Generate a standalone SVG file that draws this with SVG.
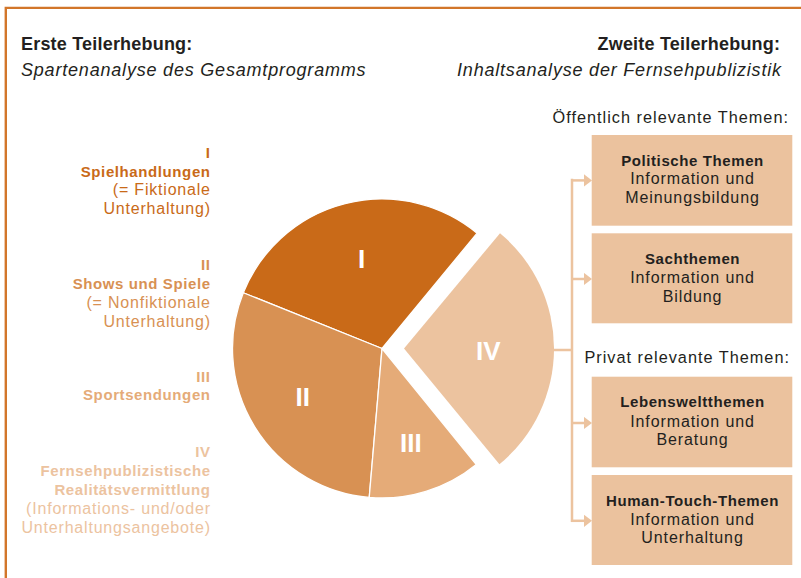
<svg xmlns="http://www.w3.org/2000/svg" width="801" height="578" viewBox="0 0 801 578">
<style>
text{font-family:"Liberation Sans",Arial,Helvetica,sans-serif;}
.hb{font-size:18px;font-weight:bold;fill:#231f20;letter-spacing:0.2px;}
.hi{font-size:18px;font-style:italic;fill:#231f20;letter-spacing:0.8px;}
.sec{font-size:16.3px;fill:#231f20;letter-spacing:1px;}
.bt{font-size:15px;font-weight:bold;fill:#231f20;letter-spacing:0.6px;text-anchor:middle;}
.br{font-size:16px;fill:#231f20;letter-spacing:0.9px;text-anchor:middle;}
.lb{font-size:15px;font-weight:bold;letter-spacing:0.6px;text-anchor:end;}
.lr{font-size:16px;letter-spacing:0.8px;text-anchor:end;}
.pl{font-size:26px;font-weight:bold;fill:#ffffff;text-anchor:middle;}
.box{fill:#ebc29e;}
.c1{fill:#c96a18;}.c2{fill:#d89153;}.c3{fill:#e5ab78;}.c4{fill:#ecc39f;}
.conn{stroke:#ecc39f;stroke-width:2.5;fill:none;}
</style>
<defs>
<marker id="ah" markerUnits="userSpaceOnUse" markerWidth="10" markerHeight="14" refX="0.5" refY="6.5" orient="auto">
<path d="M0,0 L8.5,6.5 L0,13 Z" fill="#ecc39f"/>
</marker>
</defs>

<path d="M5.8,578 V7.9 H801" fill="none" stroke="#d2762a" stroke-width="2.4"/>

<g id="headers">
<text class="hb" x="21" y="50">Erste Teilerhebung:</text>
<text class="hi" x="21" y="76">Spartenanalyse des Gesamtprogramms</text>
<text class="hb" x="780.2" y="50" text-anchor="end">Zweite Teilerhebung:</text>
<text class="hi" x="781.8" y="76" text-anchor="end">Inhaltsanalyse der Fernsehpublizistik</text>
</g>

<g id="legend">
<g id="legend-I" class="c1">
<text class="lb" x="210.6" y="158.3">I</text>
<text class="lb" x="210.6" y="176.7">Spielhandlungen</text>
<text class="lr" x="210.8" y="195.3">(= Fiktionale</text>
<text class="lr" x="210.8" y="213.6">Unterhaltung)</text>
</g>
<g id="legend-II" class="c2">
<text class="lb" x="210.6" y="270">II</text>
<text class="lb" x="210.6" y="288.5">Shows und Spiele</text>
<text class="lr" x="210.8" y="307.5">(= Nonfiktionale</text>
<text class="lr" x="210.8" y="326.7">Unterhaltung)</text>
</g>
<g id="legend-III" class="c3">
<text class="lb" x="210.6" y="382.3">III</text>
<text class="lb" x="210.6" y="400.3">Sportsendungen</text>
</g>
<g id="legend-IV" class="c4">
<text class="lb" x="210.6" y="456.7">IV</text>
<text class="lb" x="210.6" y="475.5">Fernsehpublizistische</text>
<text class="lb" x="210.6" y="495">Realitätsvermittlung</text>
<text class="lr" x="210.8" y="514.3">(Informations- und/oder</text>
<text class="lr" x="210.8" y="532.8">Unterhaltungsangebote)</text>
</g>
</g>

<g id="pie">
<g id="slice-I">
<path class="c1" d="M382,348.5 L243.29,292.74 A149.5,149.5 0 0 1 477.1,233.15 Z" stroke="#fff" stroke-width="1.3" stroke-linejoin="round"/>
<text class="pl" x="361.7" y="267.8">I</text>
</g>
<g id="slice-II">
<path class="c2" d="M382,348.5 L369.23,497.45 A149.5,149.5 0 0 1 243.29,292.74 Z" stroke="#fff" stroke-width="1.3" stroke-linejoin="round"/>
<text class="pl" x="302.7" y="406">II</text>
</g>
<g id="slice-III">
<path class="c3" d="M382,348.5 L476.29,464.51 A149.5,149.5 0 0 1 369.23,497.45 Z" stroke="#fff" stroke-width="1.3" stroke-linejoin="round"/>
<text class="pl" x="410.8" y="451.7">III</text>
</g>
<g id="slice-IV">
<path class="c4" d="M404,348.5 L500.02,233.25 A150,150 0 0 1 499.42,464.24 Z"/>
<text class="pl" x="488.3" y="359.5">IV</text>
</g>
</g>

<g id="connectors">
<path class="conn" d="M553,350 H572"/>
<path class="conn" d="M572,178.8 V522"/>
<path class="conn" d="M571,180.4 H584" marker-end="url(#ah)"/>
<path class="conn" d="M571,279 H584" marker-end="url(#ah)"/>
<path class="conn" d="M571,423 H584" marker-end="url(#ah)"/>
<path class="conn" d="M571,520.8 H584" marker-end="url(#ah)"/>
</g>

<g id="section-labels">
<text class="sec" x="789" y="122.5" text-anchor="end">Öffentlich relevante Themen:</text>
<text class="sec" x="790" y="363.3" text-anchor="end">Privat relevante Themen:</text>
</g>

<g id="box-politische">
<rect class="box" x="591.7" y="135" width="200.6" height="90.7"/>
<text class="bt" x="692.5" y="165.7">Politische Themen</text>
<text class="br" x="692.5" y="184.3">Information und</text>
<text class="br" x="692.5" y="203.3">Meinungsbildung</text>
</g>
<g id="box-sachthemen">
<rect class="box" x="591.7" y="233.3" width="200.6" height="90"/>
<text class="bt" x="692.5" y="264">Sachthemen</text>
<text class="br" x="692.5" y="282.7">Information und</text>
<text class="br" x="692.5" y="301.7">Bildung</text>
</g>
<g id="box-lebenswelt">
<rect class="box" x="591.7" y="376.7" width="200.6" height="90.6"/>
<text class="bt" x="692.5" y="407.3">Lebensweltthemen</text>
<text class="br" x="692.5" y="426.7">Information und</text>
<text class="br" x="692.5" y="445.3">Beratung</text>
</g>
<g id="box-humantouch">
<rect class="box" x="591.7" y="475" width="200.6" height="90"/>
<text class="bt" x="692.5" y="506">Human-Touch-Themen</text>
<text class="br" x="692.5" y="524.5">Information und</text>
<text class="br" x="692.5" y="543.3">Unterhaltung</text>
</g>
</svg>
